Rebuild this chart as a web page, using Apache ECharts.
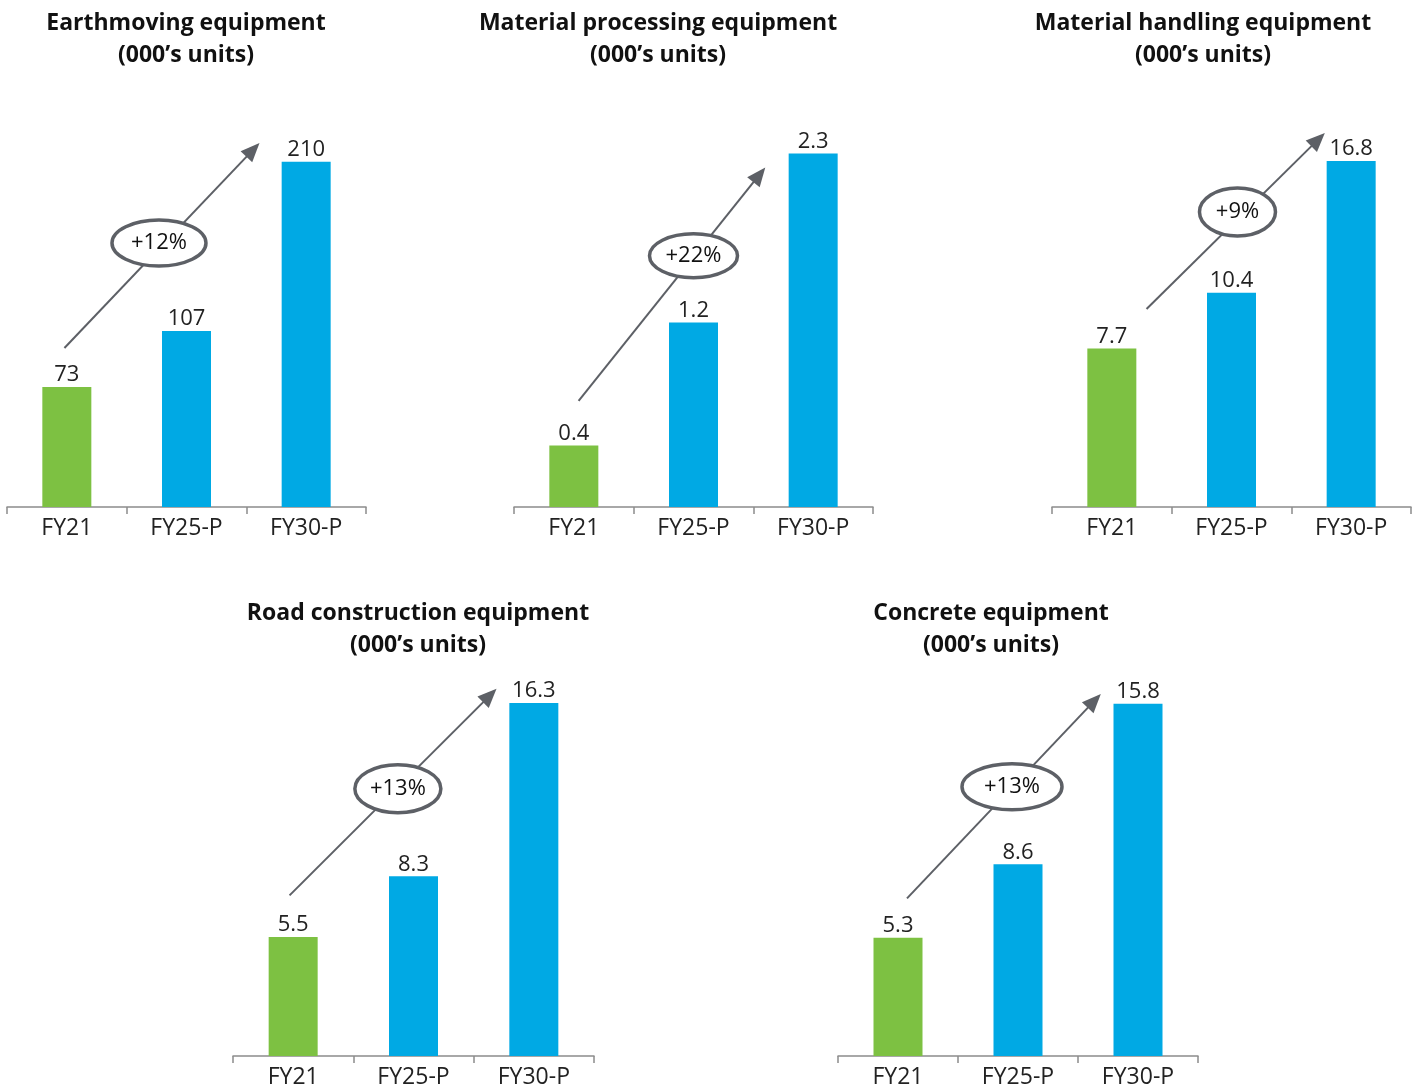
<!DOCTYPE html>
<html>
<head>
<meta charset="utf-8">
<script src="https://cdn.jsdelivr.net/npm/echarts@6/dist/echarts.min.js"></script>
<style>
  html, body { margin: 0; padding: 0; background: #fff; }
  #main { width: 1422px; height: 1089px; }
</style>
</head>
<body>
<div id="main"></div>
<script>
// Categories shared by every panel
const categories = ['FY21', 'FY25-P', 'FY30-P'];

// Panel titles
const panelTitles = [
  'Earthmoving equipment\n(000\u2019s units)',
  'Material processing equipment\n(000\u2019s units)',
  'Material handling equipment\n(000\u2019s units)',
  'Road construction equipment\n(000\u2019s units)',
  'Concrete equipment\n(000\u2019s units)'
];

// Unit volumes (000's units) per equipment type
const earthmoving = [73, 107, 210];
const materialProcessing = [0.4, 1.2, 2.3];
const materialHandling = [7.7, 10.4, 16.8];
const roadConstruction = [5.5, 8.3, 16.3];
const concrete = [5.3, 8.6, 15.8];

// Growth rate shown on each trend arrow
const growthLabels = ['+12%', '+22%', '+9%', '+13%', '+13%'];

const seriesValues = [earthmoving, materialProcessing, materialHandling, roadConstruction, concrete];

const GREEN = '#7DC142';
const BLUE = '#00A9E4';
const FONT = '"Open Sans", "Noto Sans", sans-serif';
const ARROW = '#5d6066';

// Panel layout: grid placement, value-axis ceiling and trend-arrow geometry
// (arrow points given as [category position, value]).
const panels = [
  { left: 7,    width: 359, top: 107, bottom: 582, titleX: 186, titleY: 7,   max: 243.3,
    arrow: { from: [-0.02, 96.7], to: [1.61, 221.4], badge: [0.77, 160.6], rx: 47, ry: 23 } },
  { left: 514,  width: 359, top: 107, bottom: 582, titleX: 658, titleY: 7,   max: 2.603,
    arrow: { from: [0.04, 0.69], to: [1.6, 2.21], badge: [1.0, 1.635], rx: 44, ry: 22 } },
  { left: 1052, width: 359, top: 107, bottom: 582, titleX: 1203, titleY: 7,  max: 19.42,
    arrow: { from: [0.29, 9.61], to: [1.78, 18.16], badge: [1.05, 14.32], rx: 38, ry: 24 } },
  { left: 233,  width: 361, top: 657, bottom: 32,  titleX: 418, titleY: 597, max: 18.43,
    arrow: { from: [-0.03, 7.42], to: [1.69, 16.96], badge: [0.87, 12.35], rx: 43, ry: 24 } },
  { left: 838,  width: 360, top: 657, bottom: 32,  titleX: 991, titleY: 597, max: 17.9,
    arrow: { from: [0.075, 7.07], to: [1.69, 16.24], badge: [0.95, 12.08], rx: 50, ry: 23 } }
];

const chart = echarts.init(document.getElementById('main'), null, { renderer: 'canvas' });

const option = {
  backgroundColor: '#ffffff',
  animation: false,
  title: panels.map((p, i) => ({
    text: panelTitles[i],
    left: p.titleX,
    top: p.titleY,
    padding: 0,
    textAlign: 'center',
    textStyle: { fontFamily: FONT, fontWeight: 'bold', fontSize: 23, lineHeight: 32, color: '#111' }
  })),
  grid: panels.map(p => ({ left: p.left, width: p.width, top: p.top, bottom: p.bottom, containLabel: false })),
  xAxis: panels.map((p, i) => ({
    type: 'category',
    gridIndex: i,
    data: categories,
    boundaryGap: true,
    axisLine: { show: true, lineStyle: { color: '#8c8c8c', width: 1.5 } },
    axisTick: { show: true, alignWithLabel: false, length: 7, lineStyle: { color: '#8c8c8c', width: 1.5 } },
    axisLabel: { color: '#222', fontFamily: FONT, fontSize: 23, margin: 10 },
    splitLine: { show: false }
  })),
  yAxis: panels.map((p, i) => ({
    type: 'value',
    gridIndex: i,
    min: 0,
    max: p.max,
    show: false,
    splitLine: { show: false }
  })),
  series: panels.map((p, i) => ({
    type: 'bar',
    xAxisIndex: i,
    yAxisIndex: i,
    barWidth: 49,
    data: seriesValues[i].map((v, k) => ({ value: v, itemStyle: { color: k === 0 ? GREEN : BLUE } })),
    label: {
      show: true,
      position: 'top',
      distance: 1,
      color: '#222',
      fontFamily: FONT,
      fontSize: 22,
      formatter: d => String(d.value)
    }
  }))
};

chart.setOption(option);

// Convert a [category position, value] pair into pixels for a given grid,
// interpolating between the category centres.
function toPixel(gridIndex, pt) {
  const c0 = chart.convertToPixel({ gridIndex }, [0, 0]);
  const c1 = chart.convertToPixel({ gridIndex }, [1, pt[1]]);
  const x = c0[0] + pt[0] * (c1[0] - c0[0]);
  return [x, c1[1]];
}

const graphics = [];
panels.forEach((p, i) => {
  const a = p.arrow;
  const s = toPixel(i, a.from);
  const e = toPixel(i, a.to);
  const b = toPixel(i, a.badge);
  const dx = e[0] - s[0], dy = e[1] - s[1];
  const len = Math.sqrt(dx * dx + dy * dy);
  const ux = dx / len, uy = dy / len;
  const headLen = 19, headHalf = 8;
  const bx = e[0] - ux * headLen, by = e[1] - uy * headLen;
  // shaft
  graphics.push({
    type: 'line', z: 10,
    shape: { x1: s[0], y1: s[1], x2: bx + ux * 2, y2: by + uy * 2 },
    style: { stroke: ARROW, lineWidth: 2 }
  });
  // head
  graphics.push({
    type: 'polygon', z: 10,
    shape: { points: [[e[0], e[1]], [bx - uy * headHalf, by + ux * headHalf], [bx + uy * headHalf, by - ux * headHalf]] },
    style: { fill: ARROW }
  });
  // growth badge
  graphics.push({
    type: 'ellipse', z: 11,
    shape: { cx: b[0], cy: b[1], rx: a.rx, ry: a.ry },
    style: { fill: '#ffffff', stroke: ARROW, lineWidth: 3.5 }
  });
  graphics.push({
    type: 'text', z: 12,
    x: b[0], y: b[1],
    style: { text: growthLabels[i], fill: '#111', font: '22px ' + FONT, align: 'center', verticalAlign: 'middle' }
  });
});

chart.setOption({ graphic: graphics });
</script>
</body>
</html>
